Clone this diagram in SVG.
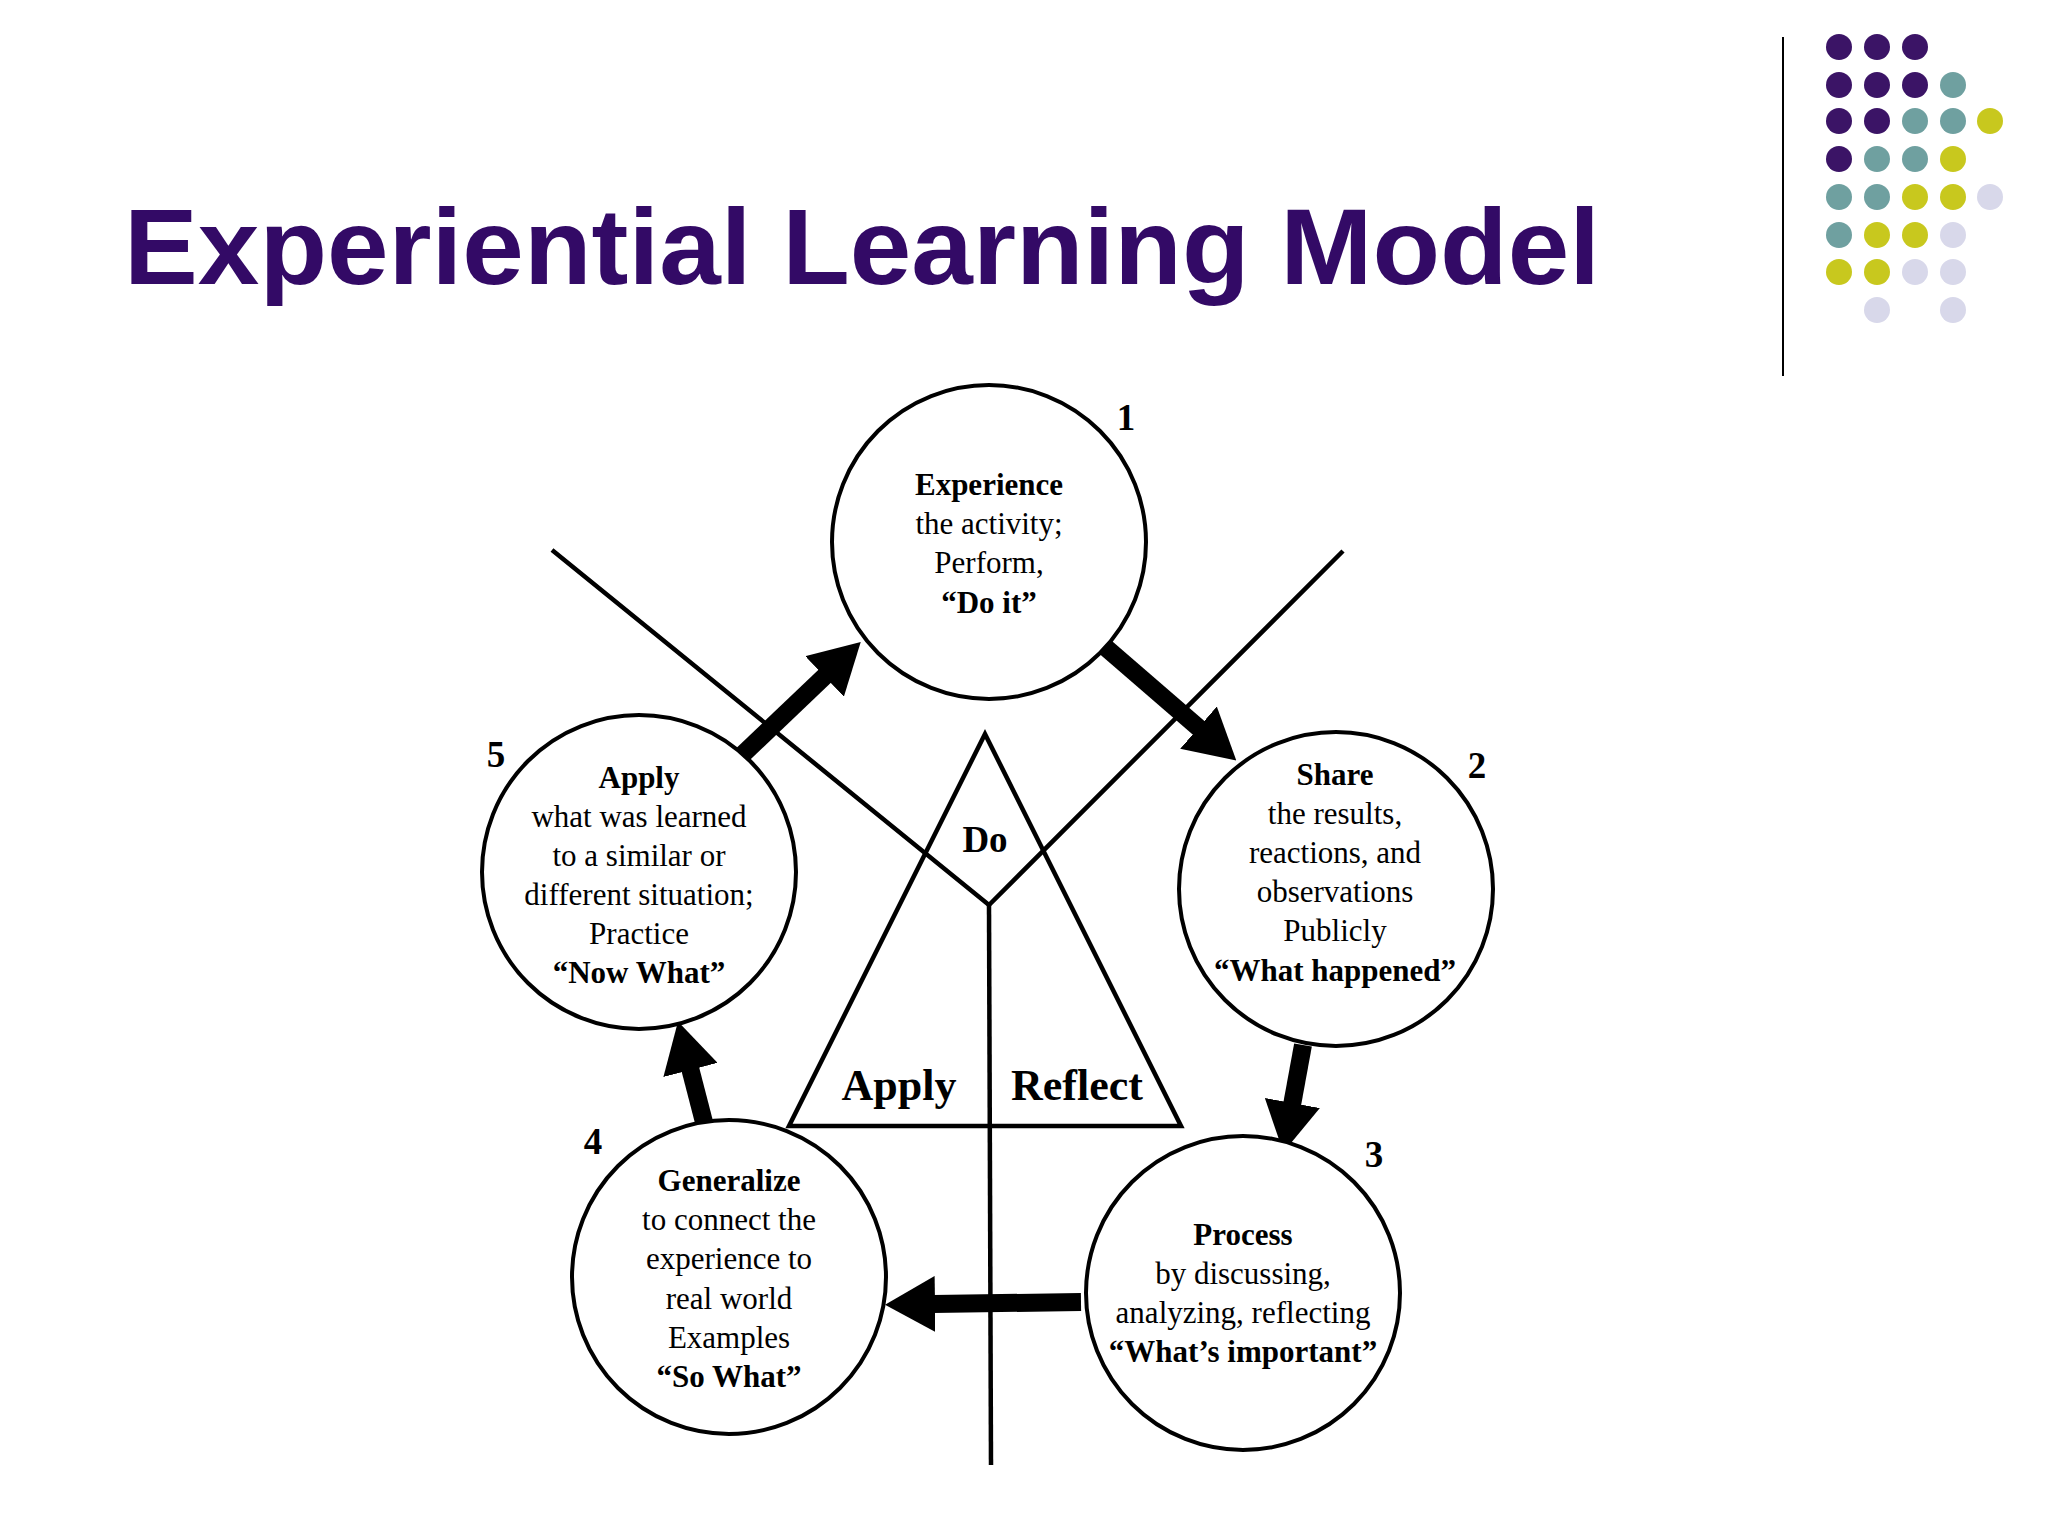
<svg xmlns="http://www.w3.org/2000/svg" width="2048" height="1536" viewBox="0 0 2048 1536">
<style>
.t{font-family:"Liberation Serif",serif;font-size:31px;text-anchor:middle;fill:#000}
.b{font-weight:bold}
.n{font-family:"Liberation Serif",serif;font-size:37px;font-weight:bold;text-anchor:middle}
.c{fill:#fff;stroke:#000;stroke-width:4}
.l{stroke:#000;stroke-width:4.5;fill:none}
.a{stroke:#000;stroke-width:18;marker-end:url(#h)}
.p{fill:#3b1466}.q{fill:#6fa0a0}.y{fill:#c8c81e}.v{fill:#d8d8ea}
</style>
<defs><marker id="h" markerUnits="userSpaceOnUse" markerWidth="50" markerHeight="56" refX="2" refY="28" orient="auto" viewBox="0 0 50 56"><path d="M0,0 L50,28 L0,56 Z" fill="#000"/></marker></defs>
<rect width="2048" height="1536" fill="#fff"/>
<text x="124" y="284" font-family="Liberation Sans,Arial,sans-serif" font-weight="bold" font-size="108" fill="#330a66" textLength="1476" lengthAdjust="spacingAndGlyphs">Experiential Learning Model</text>
<line x1="1783" y1="37" x2="1783" y2="376" stroke="#000" stroke-width="2"/>
<g id="dots">
<circle cx="1839" cy="47" r="13" class="p"/><circle cx="1877" cy="47" r="13" class="p"/><circle cx="1915" cy="47" r="13" class="p"/>
<circle cx="1839" cy="85" r="13" class="p"/><circle cx="1877" cy="85" r="13" class="p"/><circle cx="1915" cy="85" r="13" class="p"/><circle cx="1953" cy="85" r="13" class="q"/>
<circle cx="1839" cy="121" r="13" class="p"/><circle cx="1877" cy="121" r="13" class="p"/><circle cx="1915" cy="121" r="13" class="q"/><circle cx="1953" cy="121" r="13" class="q"/><circle cx="1990" cy="121" r="13" class="y"/>
<circle cx="1839" cy="159" r="13" class="p"/><circle cx="1877" cy="159" r="13" class="q"/><circle cx="1915" cy="159" r="13" class="q"/><circle cx="1953" cy="159" r="13" class="y"/>
<circle cx="1839" cy="197" r="13" class="q"/><circle cx="1877" cy="197" r="13" class="q"/><circle cx="1915" cy="197" r="13" class="y"/><circle cx="1953" cy="197" r="13" class="y"/><circle cx="1990" cy="197" r="13" class="v"/>
<circle cx="1839" cy="235" r="13" class="q"/><circle cx="1877" cy="235" r="13" class="y"/><circle cx="1915" cy="235" r="13" class="y"/><circle cx="1953" cy="235" r="13" class="v"/>
<circle cx="1839" cy="272" r="13" class="y"/><circle cx="1877" cy="272" r="13" class="y"/><circle cx="1915" cy="272" r="13" class="v"/><circle cx="1953" cy="272" r="13" class="v"/>
<circle cx="1877" cy="310" r="13" class="v"/><circle cx="1953" cy="310" r="13" class="v"/>
</g>
<g id="frame">
<polyline class="l" points="552,550 989,905 1343,551"/>
<polygon class="l" points="985,734 789,1126 1181,1126"/>
<line class="l" x1="989" y1="905" x2="991" y2="1465"/>
<text x="985" y="852" class="n" font-size="42">Do</text>
<text x="899" y="1100" class="n" style="font-size:44px">Apply</text>
<text x="1077" y="1100" class="n" style="font-size:44px">Reflect</text>
</g>
<g id="connectors">
<line class="a" x1="1104" y1="646" x2="1200" y2="729"/>
<line class="a" x1="1303" y1="1045" x2="1292" y2="1105"/>
<line class="a" x1="1081" y1="1302" x2="933" y2="1304"/>
<line class="a" x1="705" y1="1126" x2="690" y2="1068"/>
<line class="a" x1="740" y1="757" x2="826" y2="675"/>
</g>
<g id="n1"><circle class="c" cx="989" cy="542" r="157"/><text x="1126" y="430" class="n">1</text>
<text class="t b" x="989" y="495">Experience</text><text class="t" x="989" y="534">the activity;</text><text class="t" x="989" y="573">Perform,</text><text class="t b" x="989" y="613">“Do it”</text></g>
<g id="n2"><circle class="c" cx="1336" cy="889" r="157"/><text x="1477" y="778" class="n">2</text>
<text class="t b" x="1335" y="785">Share</text><text class="t" x="1335" y="824">the results,</text><text class="t" x="1335" y="863">reactions, and</text><text class="t" x="1335" y="902">observations</text><text class="t" x="1335" y="941">Publicly</text><text class="t b" x="1335" y="981">“What happened”</text></g>
<g id="n3"><circle class="c" cx="1243" cy="1293" r="157"/><text x="1374" y="1167" class="n">3</text>
<text class="t b" x="1243" y="1245">Process</text><text class="t" x="1243" y="1284">by discussing,</text><text class="t" x="1243" y="1323">analyzing, reflecting</text><text class="t b" x="1243" y="1362">“What’s important”</text></g>
<g id="n4"><circle class="c" cx="729" cy="1277" r="157"/><text x="593" y="1154" class="n">4</text>
<text class="t b" x="729" y="1191">Generalize</text><text class="t" x="729" y="1230">to connect the</text><text class="t" x="729" y="1269">experience to</text><text class="t" x="729" y="1309">real world</text><text class="t" x="729" y="1348">Examples</text><text class="t b" x="729" y="1387">“So What”</text></g>
<g id="n5"><circle class="c" cx="639" cy="872" r="157"/><text x="496" y="767" class="n">5</text>
<text class="t b" x="639" y="788">Apply</text><text class="t" x="639" y="827">what was learned</text><text class="t" x="639" y="866">to a similar or</text><text class="t" x="639" y="905">different situation;</text><text class="t" x="639" y="944">Practice</text><text class="t b" x="639" y="983">“Now What”</text></g>
</svg>
